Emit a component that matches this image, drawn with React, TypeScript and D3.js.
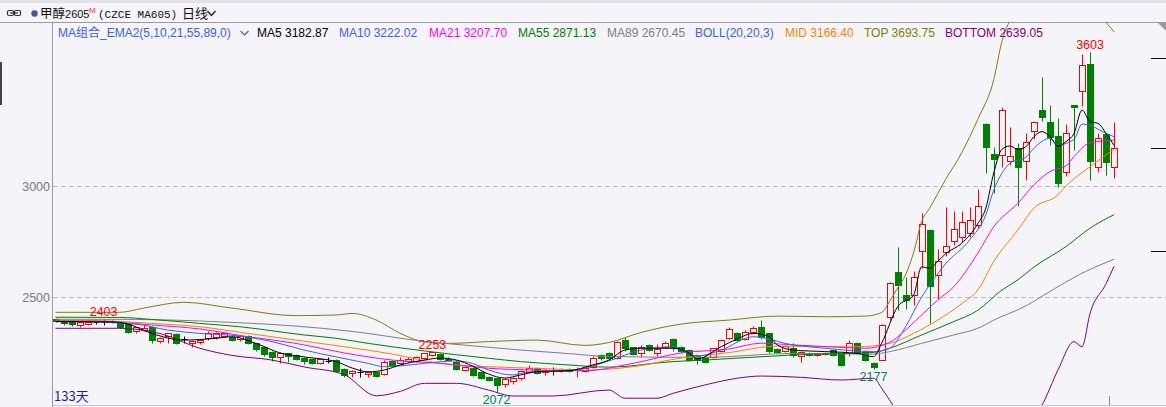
import * as d3 from "d3";

// daily candles, 133 sessions (oldest first)
const opens = [
  2399, 2392, 2393, 2374, 2377, 2386, 2387, 2390, 2384, 2377, 2348, 2352, 2363, 2302, 2324, 2333, 2310, 2292, 2297, 2315,
  2322, 2326, 2321, 2311, 2324, 2292, 2276, 2254, 2228, 2246, 2239, 2224, 2220, 2202, 2212, 2216, 2174, 2159, 2164, 2153,
  2163, 2153, 2212, 2201, 2212, 2213, 2224, 2238, 2242, 2222, 2209, 2171, 2182, 2163, 2141, 2134, 2108, 2121, 2134, 2164,
  2179, 2164, 2167, 2167, 2176, 2170, 2168, 2186, 2239, 2249, 2224, 2306, 2273, 2246, 2284, 2249, 2276, 2309, 2273, 2261,
  2239, 2230, 2231, 2258, 2314, 2340, 2309, 2344, 2364, 2336, 2265, 2258, 2270, 2234, 2249, 2238, 2242, 2261, 2246, 2246,
  2291, 2254, 2204, 2216, 2411, 2614, 2509, 2509, 2709, 2802, 2599, 2704, 2754, 2772, 2790, 2824, 3279, 3144, 3140, 3111,
  3170, 3114, 3249, 3342, 3287, 3225, 3064, 3364, 3428, 3549, 3084, 3234, 3084,
];
const highs = [
  2404, 2396, 2397, 2390, 2392, 2393, 2403, 2395, 2390, 2381, 2367, 2372, 2368, 2320, 2340, 2338, 2324, 2305, 2313, 2345,
  2344, 2340, 2326, 2328, 2328, 2295, 2280, 2258, 2254, 2250, 2243, 2228, 2224, 2224, 2230, 2221, 2178, 2170, 2179, 2166,
  2166, 2216, 2216, 2230, 2230, 2235, 2250, 2253, 2248, 2228, 2218, 2190, 2186, 2168, 2145, 2136, 2135, 2140, 2170, 2194,
  2185, 2174, 2184, 2178, 2180, 2186, 2182, 2232, 2244, 2252, 2302, 2320, 2276, 2283, 2290, 2290, 2303, 2315, 2280, 2264,
  2244, 2234, 2272, 2310, 2365, 2344, 2353, 2368, 2398, 2340, 2270, 2284, 2293, 2258, 2252, 2250, 2252, 2265, 2250, 2306,
  2297, 2260, 2208, 2378, 2566, 2727, 2592, 2618, 2880, 2806, 2715, 2907, 2886, 2886, 2907, 2987, 3285, 3176, 3355, 3264,
  3194, 3237, 3292, 3490, 3365, 3305, 3279, 3367, 3596, 3603, 3240, 3240, 3290,
];
const lows = [
  2386, 2376, 2368, 2365, 2372, 2378, 2372, 2383, 2362, 2340, 2336, 2345, 2294, 2292, 2294, 2287, 2293, 2275, 2288, 2306,
  2313, 2318, 2300, 2300, 2288, 2256, 2234, 2213, 2204, 2205, 2214, 2197, 2198, 2198, 2204, 2165, 2140, 2140, 2138, 2140,
  2140, 2147, 2190, 2198, 2207, 2209, 2221, 2232, 2215, 2212, 2172, 2166, 2144, 2130, 2120, 2072, 2096, 2110, 2128, 2160,
  2152, 2150, 2150, 2163, 2164, 2140, 2160, 2180, 2218, 2218, 2220, 2256, 2238, 2229, 2257, 2233, 2270, 2256, 2250, 2212,
  2198, 2203, 2226, 2252, 2310, 2300, 2305, 2333, 2310, 2250, 2248, 2254, 2230, 2208, 2235, 2234, 2238, 2234, 2190, 2234,
  2242, 2212, 2177, 2214, 2396, 2440, 2448, 2464, 2630, 2381, 2490, 2684, 2732, 2750, 2770, 2811, 3057, 2970, 3087, 3095,
  2910, 3027, 3210, 3293, 3185, 2997, 3045, 3162, 3362, 3027, 3065, 3050, 3035,
];
const closes = [
  2390, 2385, 2377, 2386, 2388, 2386, 2387, 2388, 2366, 2344, 2363, 2362, 2306, 2317, 2336, 2294, 2310, 2302, 2306, 2338,
  2337, 2336, 2306, 2324, 2292, 2265, 2243, 2231, 2246, 2234, 2219, 2213, 2202, 2220, 2212, 2168, 2149, 2168, 2164, 2163,
  2144, 2209, 2194, 2216, 2219, 2231, 2246, 2251, 2219, 2220, 2176, 2185, 2149, 2134, 2126, 2104, 2131, 2136, 2167, 2182,
  2156, 2170, 2167, 2173, 2168, 2176, 2178, 2227, 2224, 2225, 2299, 2271, 2243, 2276, 2261, 2264, 2294, 2273, 2258, 2216,
  2216, 2208, 2269, 2306, 2354, 2306, 2344, 2360, 2319, 2258, 2252, 2279, 2239, 2254, 2239, 2245, 2248, 2239, 2194, 2291,
  2246, 2216, 2186, 2374, 2562, 2554, 2487, 2589, 2829, 2550, 2662, 2730, 2805, 2836, 2847, 2910, 3174, 3123, 3342, 3135,
  3084, 3197, 3287, 3311, 3222, 3012, 3237, 3355, 3545, 3114, 3215, 3110, 3170,
];

// indicator lines: [session index, value]
type Pt = [number, number];
const ema5: Pt[] = [
  [0, 2389], [7, 2388], [9, 2378], [12, 2336], [16, 2306], [20, 2314], [22, 2321], [25, 2291], [28, 2248], [31, 2230],
  [35, 2209], [37, 2180], [39, 2163], [41, 2171], [43, 2194], [46, 2216], [48, 2225], [50, 2216], [52, 2189], [54, 2153],
  [56, 2135], [58, 2149], [60, 2163], [64, 2168], [67, 2194], [69, 2216], [71, 2261], [73, 2269], [77, 2269], [79, 2248],
  [80, 2221], [83, 2276], [85, 2311], [87, 2336], [89, 2321], [90, 2284], [92, 2261], [96, 2254], [100, 2246], [102, 2231],
  [103, 2291], [105, 2456], [107, 2509], [108, 2636], [109, 2629], [110, 2660], [111, 2695], [113, 2742], [115, 2830],
  [116, 2900], [117, 3060], [118, 3165], [119, 3180], [120, 3165], [121, 3177], [122, 3222], [123, 3245], [124, 3222],
  [125, 3180], [126, 3200], [127, 3237], [128, 3342], [129, 3290], [130, 3282], [131, 3237], [132, 3183],
];
const ema10: Pt[] = [
  [0, 2392], [10, 2378], [14, 2351], [18, 2336], [23, 2324], [27, 2299], [31, 2261], [35, 2230], [39, 2201], [41, 2186],
  [43, 2190], [46, 2201], [50, 2212], [52, 2201], [54, 2171], [57, 2149], [59, 2163], [64, 2167], [69, 2212], [73, 2261],
  [77, 2276], [80, 2234], [83, 2261], [87, 2321], [92, 2284], [96, 2269], [102, 2254], [104, 2269], [106, 2366],
  [108, 2500], [109, 2554], [111, 2650], [114, 2757], [116, 2870], [117, 2982], [118, 3057], [119, 3102], [121, 3130],
  [122, 3170], [124, 3215], [125, 3185], [127, 3210], [128, 3279], [129, 3272], [131, 3237], [132, 3222],
];
const ema21: Pt[] = [
  [0, 2392], [6, 2390], [12, 2374], [18, 2356], [24, 2321], [30, 2291], [36, 2248], [42, 2216], [48, 2201], [54, 2179],
  [60, 2171], [66, 2168], [72, 2201], [78, 2248], [84, 2266], [88, 2292], [92, 2284], [97, 2275], [101, 2269],
  [104, 2295], [106, 2351], [108, 2419], [110, 2486], [112, 2546], [115, 2697], [117, 2817], [120, 2922], [122, 3005],
  [124, 3065], [126, 3090], [127, 3132], [129, 3195], [130, 3200], [132, 3207],
];
const ema55: Pt[] = [
  [0, 2409], [8, 2408], [12, 2399], [18, 2381], [23, 2366], [31, 2329], [35, 2314], [39, 2291], [46, 2257], [54, 2224],
  [58, 2209], [64, 2194], [69, 2184], [77, 2209], [81, 2216], [92, 2239], [102, 2250], [104, 2269], [108, 2329],
  [112, 2389], [115, 2440], [118, 2531], [120, 2577], [122, 2635], [126, 2727], [129, 2810], [132, 2871],
];
const ema89: Pt[] = [
  [0, 2400], [10, 2399], [18, 2392], [23, 2384], [30, 2369], [37, 2345], [46, 2300], [52, 2280], [58, 2261], [64, 2245],
  [69, 2232], [81, 2228], [92, 2246], [102, 2243], [104, 2254], [108, 2291], [112, 2329], [115, 2359], [117, 2396],
  [121, 2460], [124, 2525], [128, 2607], [132, 2670],
];
const bollMid: Pt[] = [
  [0, 2396], [6, 2393], [12, 2381], [18, 2366], [24, 2336], [30, 2306], [36, 2276], [42, 2243], [48, 2201], [54, 2186],
  [60, 2179], [66, 2171], [72, 2186], [78, 2225], [84, 2250], [90, 2279], [96, 2276], [100, 2276], [104, 2291],
  [107, 2336], [110, 2396], [113, 2470], [115, 2531], [117, 2660], [120, 2802], [122, 2900], [125, 2960], [126, 3000],
  [129, 3087], [131, 3140], [132, 3166],
];
const bollTop: Pt[] = [
  [0, 2431], [8, 2431], [11, 2450], [16, 2476], [22, 2450], [30, 2416], [35, 2419], [37, 2426], [40, 2396], [43, 2336],
  [46, 2298], [49, 2291], [54, 2299], [60, 2306], [66, 2282], [69, 2295], [73, 2340], [78, 2378], [84, 2396], [90, 2414],
  [96, 2411], [101, 2414], [103, 2430], [104, 2480], [105, 2540], [106, 2600], [107, 2700], [108, 2840], [109, 2900],
  [111, 3030], [113, 3150], [115, 3300], [117, 3480], [118, 3650], [119, 3745], [121, 3830], [124, 3880], [127, 3860],
  [130, 3770], [131, 3736], [132, 3694],
];
const bollBottom: Pt[] = [
  [0, 2359], [8, 2359], [13, 2336], [18, 2269], [22, 2237], [27, 2216], [31, 2185], [36, 2150], [40, 2055], [43, 2075],
  [46, 2111], [50, 2111], [54, 2081], [57, 2054], [62, 2054], [69, 2081], [71, 2044], [75, 2044], [77, 2066], [81, 2104],
  [85, 2134], [88, 2144], [93, 2138], [98, 2126], [102, 2134], [103, 2090], [104, 2036], [105, 1980], [107, 1900],
  [110, 1800], [114, 1700], [118, 1780], [121, 1930], [123, 2013], [125, 2171], [127, 2299], [128, 2276], [129, 2426],
  [131, 2560], [132, 2639],
];

const yTicks = [2500, 3000];
const rightTicks = [3576, 3171, 2707];
const highMarks = [6, 47, 129];
const lowMarks = [55, 102];

const legend = [
  { text: "MA5 3182.87", color: "#000000", x: 257 },
  { text: "MA10 3222.02", color: "#3a62e6", x: 339 },
  { text: "MA21 3207.70", color: "#ff00ff", x: 429 },
  { text: "MA55 2871.13", color: "#008000", x: 518 },
  { text: "MA89 2670.45", color: "#808080", x: 607 },
  { text: "BOLL(20,20,3)", color: "#3a62e6", x: 695 },
  { text: "MID 3166.40", color: "#ff8000", x: 785 },
  { text: "TOP 3693.75", color: "#808000", x: 864 },
  { text: "BOTTOM 2639.05", color: "#800080", x: 945 },
];

const SANS = '"Liberation Sans", Arial, "Noto Sans CJK SC", sans-serif';
const CJK = '"Noto Sans CJK SC", "Liberation Sans", sans-serif';
const BG = "#f4f4f9";
const UP = "#ff0000";
const DOWN = "#008000";

const W = 1166;
const H = 407;
const plotLeft = 53;
const plotTop = 22.5;
const plotBottom = 405;

const App = () => {
  const x = d3.scaleLinear().domain([0, 132]).range([55.5, 1114.1]);
  const y = d3.scaleLinear().domain([2500, 3000]).range([297, 186]);
  const line = d3
    .line<Pt>()
    .x((d) => x(d[0]))
    .y((d) => y(d[1]))
    .curve(d3.curveMonotoneX);

  const series = [
    { data: bollTop, color: "#808000" },
    { data: bollBottom, color: "#800080" },
    { data: ema89, color: "#808080" },
    { data: ema55, color: "#008000" },
    { data: bollMid, color: "#ff8000" },
    { data: ema21, color: "#ff00ff" },
    { data: ema10, color: "#3a62e6" },
    { data: ema5, color: "#000000" },
  ];

  const candles = d3.range(closes.length).map((i) => ({
    i,
    o: opens[i],
    h: highs[i],
    l: lows[i],
    c: closes[i],
  }));

  return (
    <svg
      width={W}
      height={H}
      style={{ position: "fixed", left: 0, top: 0, background: BG }}
    >
      <defs>
        <clipPath id="plot">
          <rect x={plotLeft} y={plotTop} width={W - plotLeft} height={plotBottom - plotTop} />
        </clipPath>
      </defs>
      <rect width={W} height={H} fill={BG} />
      <rect width={W} height={3} fill="#e2e2e8" />

      {/* title row */}
      <g stroke="#333" fill="none" strokeWidth={1.2}>
        <rect x={7.5} y={10.5} width={6} height={5} rx={1.5} />
        <rect x={14.5} y={10.5} width={6} height={5} rx={1.5} />
        <line x1={10} y1={13} x2={18} y2={13} />
      </g>
      <circle cx={34.5} cy={13.5} r={3.2} fill="#3a5a9a" />
      <text x={40} y={18} fontSize={12.5} fontFamily={CJK} fill="#111">
        甲醇
        <tspan fontFamily={SANS} fontSize={11}>
          2605
        </tspan>
      </text>
      <text x={89} y={13} fontSize={8} fontFamily={SANS} fill="#ff3030">
        M
      </text>
      <text x={98} y={18} fontSize={11} fontFamily='"Liberation Mono", monospace' fill="#111">
        (CZCE MA605)
      </text>
      <text x={182} y={18} fontSize={13} fontFamily={CJK} fill="#111">
        日线
      </text>
      <path d="M207.5,11 L211.5,15.5 L215.5,11" stroke="#222" fill="none" strokeWidth={1.3} />

      {/* frame */}
      <line x1={0} x2={W} y1={plotTop} y2={plotTop} stroke="#9a9aa2" />
      <line x1={plotLeft - 0.5} x2={plotLeft - 0.5} y1={plotTop} y2={H} stroke="#9a9aa2" />
      <line x1={plotLeft} x2={W} y1={plotBottom + 0.5} y2={plotBottom + 0.5} stroke="#c8c8d0" />
      <rect x={0} y={62} width={2} height={43} fill="#444" />
      <path d="M1158,23 L1166,23 L1166,31 Z" fill="#9a9aa2" />

      {/* grid + y labels */}
      {yTicks.map((t) => (
        <g key={t}>
          <line
            x1={plotLeft}
            x2={W}
            y1={Math.round(y(t)) + 0.5}
            y2={Math.round(y(t)) + 0.5}
            stroke="#bdbdc4"
            strokeDasharray="5,3"
          />
          <text
            x={50}
            y={y(t) + 4.5}
            textAnchor="end"
            fontSize={12.5}
            fontFamily={SANS}
            fill="#7a7a7a"
          >
            {t}
          </text>
        </g>
      ))}
      {rightTicks.map((t) => (
        <line
          key={t}
          x1={1151}
          x2={W}
          y1={Math.round(y(t)) + 0.5}
          y2={Math.round(y(t)) + 0.5}
          stroke="#111"
        />
      ))}
      <line x1={1109.5} x2={1109.5} y1={396} y2={405} stroke="#888" />

      {/* candles */}
      <g clipPath="url(#plot)">
        {candles.map((d) => {
          const cx = Math.round(x(d.i)) + 0.5;
          const top = Math.round(y(Math.max(d.o, d.c))) + 0.5;
          const bot = Math.round(y(Math.min(d.o, d.c))) + 0.5;
          const hy = Math.round(y(d.h)) + 0.5;
          const ly = Math.round(y(d.l)) + 0.5;
          if (d.o === d.c) {
            return (
              <g key={d.i} stroke="#000">
                <line x1={cx} x2={cx} y1={hy} y2={ly} />
                <line x1={cx - 3} x2={cx + 3} y1={top} y2={top} />
              </g>
            );
          }
          if (d.c > d.o) {
            return (
              <g key={d.i} stroke={UP}>
                <line x1={cx} x2={cx} y1={hy} y2={top} />
                <line x1={cx} x2={cx} y1={bot} y2={ly} />
                <rect x={cx - 3} y={top} width={6} height={Math.max(bot - top, 1)} fill={BG} />
              </g>
            );
          }
          return (
            <g key={d.i} stroke={DOWN}>
              <line x1={cx} x2={cx} y1={hy} y2={ly} />
              <rect x={cx - 3} y={top} width={6} height={Math.max(bot - top, 1)} fill={DOWN} />
            </g>
          );
        })}
      </g>

      {/* indicator lines */}
      <g clipPath="url(#plot)" fill="none" strokeWidth={1}>
        {series.map((s, k) => (
          <path key={k} d={line(s.data) ?? ""} stroke={s.color} />
        ))}
      </g>

      {/* extreme labels */}
      {highMarks.map((i) => (
        <text
          key={"h" + i}
          x={x(i)}
          y={y(highs[i]) - 3}
          textAnchor="middle"
          fontSize={12.5}
          fontFamily={SANS}
          fill="#ff0000"
        >
          {highs[i]}
        </text>
      ))}
      {lowMarks.map((i) => (
        <text
          key={"l" + i}
          x={x(i)}
          y={y(lows[i]) + 12}
          textAnchor="middle"
          fontSize={12.5}
          fontFamily={SANS}
          fill="#00806a"
        >
          {lows[i]}
        </text>
      ))}

      {/* legend row */}
      <text x={58} y={37} fontSize={12} fontFamily={SANS} fill="#3a62e6">
        MA组合_EMA2(5,10,21,55,89,0)
      </text>
      <path d="M240.5,31 L244.5,35 L248.5,31" stroke="#3a62e6" fill="none" strokeWidth={1.2} />
      {legend.map((l) => (
        <text key={l.text} x={l.x} y={37} fontSize={12} fontFamily={SANS} fill={l.color}>
          {l.text}
        </text>
      ))}

      <text x={54} y={401} fontSize={13} fontFamily={CJK} fill="#1b1ba0">
        133天
      </text>
    </svg>
  );
};

export default App;
